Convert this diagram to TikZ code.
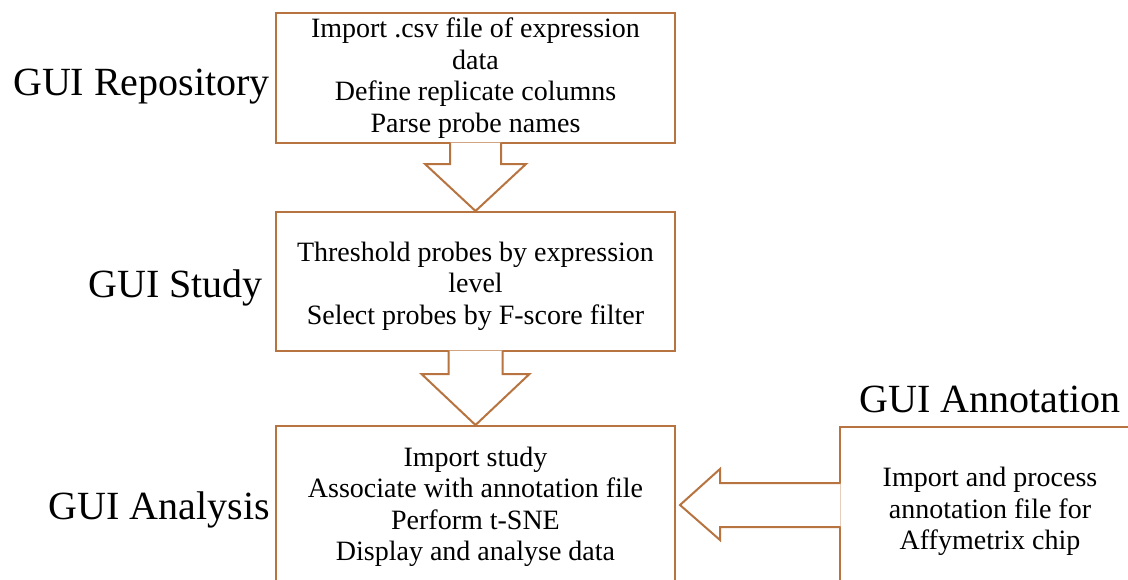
\documentclass[tikz,border=0pt]{standalone}
\usepackage{fontspec}
\setmainfont{Liberation Serif}
\usetikzlibrary{calc}

\definecolor{boxbrown}{RGB}{184,116,64}

\tikzset{
    stepbox/.style={draw=boxbrown, line width=2pt, fill=white, align=center,
        inner sep=0pt, font=\fontsize{28}{31.5}\selectfont},
    guilabel/.style={inner sep=0pt, font=\fontsize{40}{46}\selectfont},
    blockarrow/.style={draw=boxbrown, line width=2pt, fill=white, line join=miter},
}

\begin{document}
\begin{tikzpicture}[x=1pt, y=1pt]
        \clip (0, 0) rectangle (1128, -579);
        \fill[white] (0, 0) rectangle (1128, -579);

        % the three steps of the pipeline
        \node[stepbox, minimum width=399, minimum height=130] (repo) at (475.5, -78)
            {Import .csv file of expression\\ data\\ Define replicate columns\\ Parse probe names};
        \node[guilabel, anchor=base east] (repolabel) at (270, -95) {GUI Repository};

        \node[stepbox, minimum width=399, minimum height=139] (study) at (475.5, -281.5)
            {\\[-3pt] Threshold probes by expression\\ level\\ Select probes by F-score filter};
        \node[guilabel, anchor=base east] (studylabel) at (263, -297) {GUI Study};

        \node[stepbox, minimum width=399, minimum height=162] (analysis) at (475.5, -507)
            {Import study\\ Associate with annotation file\\ Perform t-SNE\\ Display and analyse data};
        \node[guilabel, anchor=base east] (analysislabel) at (270, -519) {GUI Analysis};

        % annotation box on the right
        \node[stepbox, minimum width=300, minimum height=169] (annot) at (990, -511.5)
            {Import and process\\ annotation file for\\ Affymetrix chip};
        \node[guilabel, anchor=base] (annotlabel) at (990, -412) {GUI Annotation};

        % block arrows between the steps
        \draw[blockarrow] ($(repo.south)+(-25.5,1.5)$) |- ($(repo.south)+(-50.5,-20)$)
            -- (study.north) -- ($(repo.south)+(50.5,-20)$) -| ($(repo.south)+(25.5,1.5)$);

        \draw[blockarrow] ($(study.south)+(-27,1.5)$) |- ($(study.south)+(-54,-22)$)
            -- (analysis.north) -- ($(study.south)+(54,-22)$) -| ($(study.south)+(27,1.5)$);

        \coordinate (tip) at ($(analysis.east)+(4,2)$);
        \draw[blockarrow] ($(tip -| annot.west)+(1.5,22)$) -- ($(tip)+(40,22)$) -- ++(0,14)
            -- (tip) -- ++(40,-35) -- ++(0,13) -- ($(tip -| annot.west)+(1.5,-22)$);

    \end{tikzpicture}
\end{document}
